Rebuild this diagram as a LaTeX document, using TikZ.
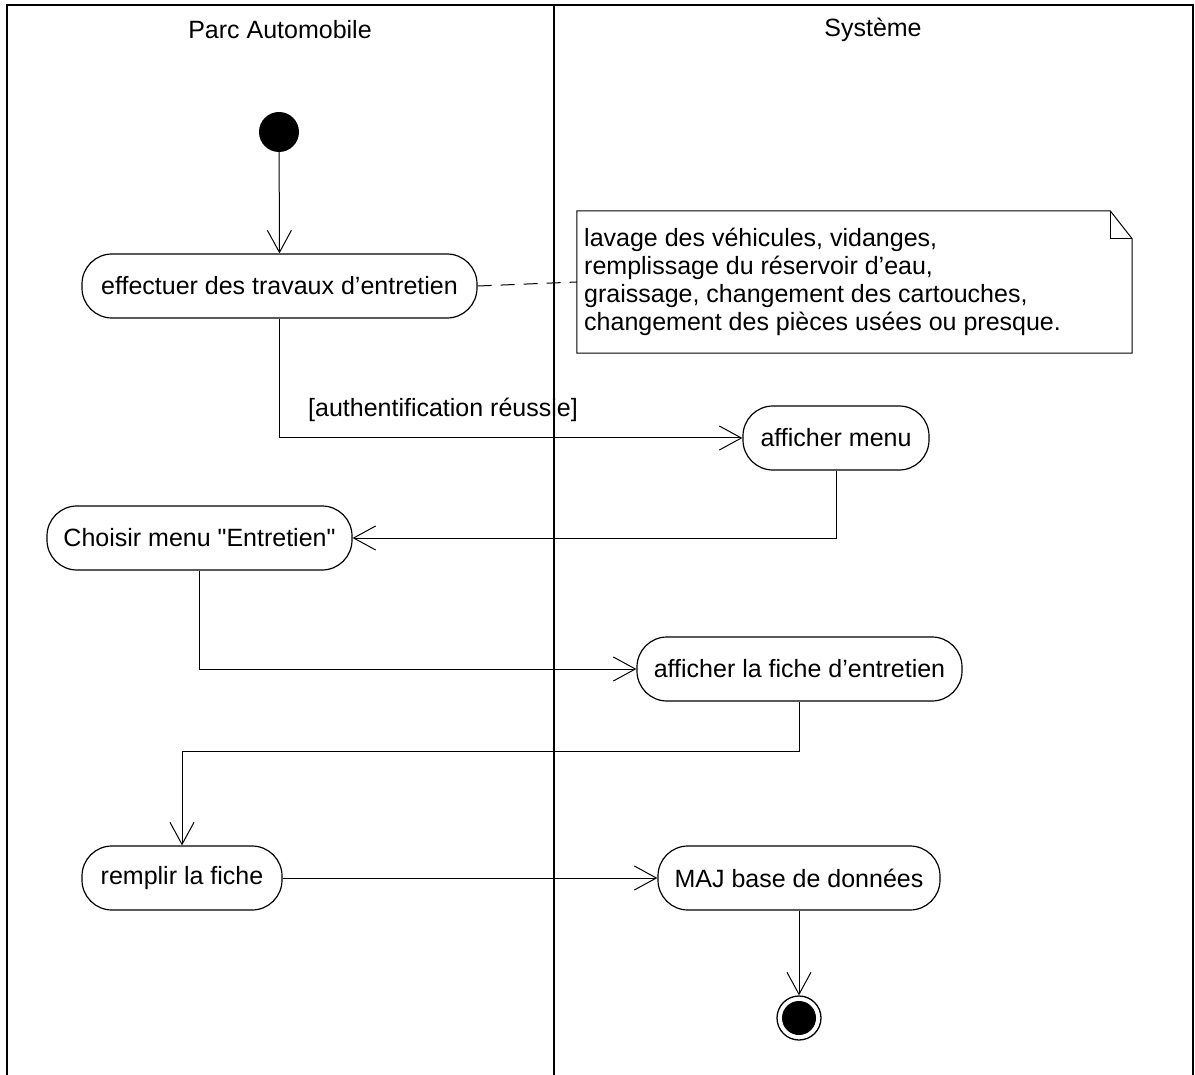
\documentclass[tikz,border=0pt]{standalone}
\usepackage{fontspec}
\setmainfont{Liberation Sans}[Ligatures=TeXOff]
\usetikzlibrary{arrows.meta,calc}
\begin{document}
\begin{tikzpicture}[x=1pt,y=-1pt,
  lane/.style={line width=1.3pt},
  act/.style={draw,line width=1.2pt,rounded corners=30pt,minimum height=64pt,inner xsep=0pt,inner ysep=0pt,font=\fontsize{25}{28}\selectfont},
  flow/.style={line width=1pt,-{Straight Barb[length=22pt,width=24pt,line width=1pt]}},
  txt/.style={font=\fontsize{25}{28}\selectfont,inner sep=0pt},
  startnode/.style={circle,fill=black,minimum size=40pt,inner sep=0pt},
  endnode/.style={circle,draw,line width=1.3pt,minimum size=44pt,inner sep=0pt,
    path picture={\fill[black] (path picture bounding box.center) circle[radius=17pt];}}]
\useasboundingbox (0,0) rectangle (1195,1075);
% swimlanes
\draw[lane] (7,1075) -- (7,5) -- (1193,5) -- (1193,1075);
\draw[lane] (554,5) -- (554,1075);
\node[txt] (h1) at (280,30) {Parc Automobile};
\node[txt] (h2) at (873,30) {Système};
% nodes
\node[startnode] (init) at (279,132) {};
\node[act,minimum width=395pt] (eff) at (279.5,286) {effectuer des travaux d’entretien};
\node[act,minimum width=186pt] (menu) at (836,438) {afficher menu};
\node[act,minimum width=305pt] (choix) at (199.5,538) {Choisir menu "Entretien"};
\node[act,minimum width=325pt] (fiche) at (799.5,669) {afficher la fiche d’entretien};
\node[act,minimum width=200pt] (remplir) at (182,878) {remplir la fiche};
\node[act,minimum width=282pt] (maj) at (799,878) {MAJ base de données};
\node[endnode] (fin) at (799,1018) {};
% note
\node[minimum width=555pt,minimum height=142pt,inner sep=0pt] (note) at (854.5,282) {};
\draw[line width=1pt] (note.north west) -- ($(note.north east)+(-22,0)$) -- ($(note.north east)+(0,28)$) -- (note.south east) -- (note.south west) -- cycle;
\draw[line width=1pt] ($(note.north east)+(-22,0)$) |- ($(note.north east)+(0,28)$);
\node[txt,anchor=west,align=left] (notetxt) at (584,282) {lavage des véhicules, vidanges,\\remplissage du réservoir d’eau,\\graissage, changement des cartouches,\\changement des pièces usées ou presque.};
\draw[line width=1pt,dash pattern=on 14pt off 9pt] (eff.east) -- (note.west);
% flows
\draw[flow] (init) -- (eff.north);
\draw[flow] (eff.south) |- (menu.west);
\node[txt] (guard) at (443,410) {[authentification réussie]};
\draw[flow] (menu.south) |- (choix.east);
\draw[flow] (choix.south) |- (fiche.west);
\coordinate (bend) at (799.5,751);
\draw[flow] (fiche.south) -- (bend) -| (remplir.north);
\draw[flow] (remplir.east) -- (maj.west);
\draw[flow] (maj.south) -- (fin.north);
\end{tikzpicture}
\end{document}
